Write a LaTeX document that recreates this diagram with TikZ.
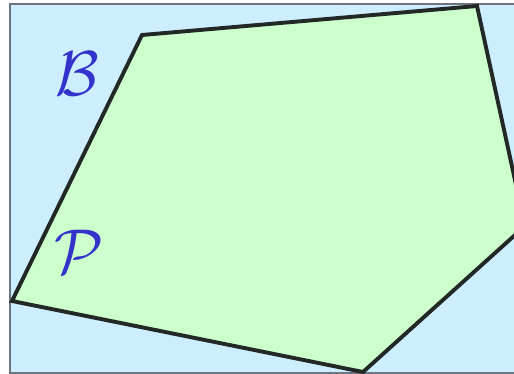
\documentclass[tikz,border=0pt]{standalone}
\usepackage{xcolor}
\usepackage{amsmath}
\usepackage{tikz}
\usetikzlibrary{positioning}
\definecolor{boxfill}{HTML}{CCEEFF}
\definecolor{boxline}{HTML}{6E7580}
\definecolor{polyfill}{HTML}{CCFFCC}
\definecolor{ink}{HTML}{222826}
\definecolor{lbl}{HTML}{3333CC}
\tikzset{
  frame/.style = {draw=boxline, fill=boxfill, line width=1.6pt},
  poly/.style  = {draw=ink, fill=polyfill, line width=3.9pt},
  setname/.style = {text=lbl, font=\Huge, scale=2.55, inner sep=0pt},
}

\begin{document}
\begin{tikzpicture}[x=1pt,y=-1pt]
\useasboundingbox (0,0) rectangle (514,374);
\clip (0,0) rectangle (514,374);

% ------------------------------------------------------------------ box
\draw[frame] (10,3.8) rectangle (540,372.8);

% ------------------------------------------------------------------ polygon
\draw[poly] (142,35) -- (477,6) -- (525,226) -- (363,372) -- (12,301) -- cycle;

% ------------------------------------------------------------------ labels
\node[setname] (lb) at (77,74)  {$\mathcal{B}$};
\node[setname] (lp) at (79,252) {$\mathcal{P}$};

\end{tikzpicture}
\end{document}
